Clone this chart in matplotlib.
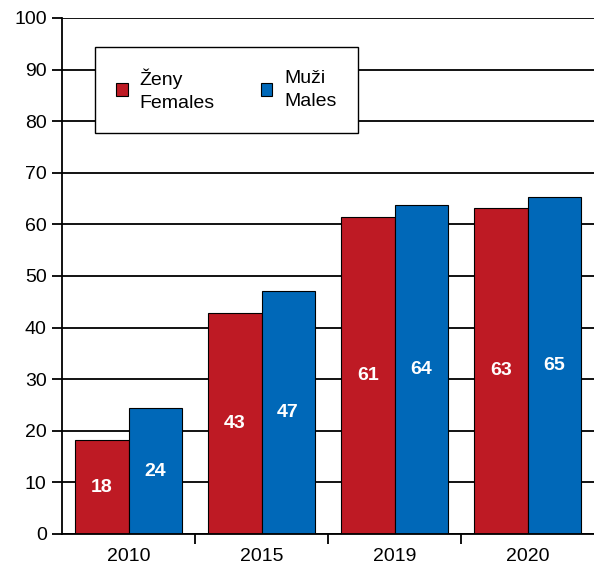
import matplotlib.pyplot as plt
import numpy as np
from matplotlib.patches import Patch

plt.rcParams['font.family'] = ['Liberation Sans', 'DejaVu Sans']

years = ['2010', '2015', '2019', '2020']
females = [18.2, 42.9, 61.4, 63.2]
males = [24.4, 47.1, 63.8, 65.3]

red = '#BE1A24'
blue = '#0068B8'

fig = plt.figure(figsize=(5.94, 5.68), dpi=100)
ax = fig.add_axes([62 / 594, 34 / 568, 532 / 594, 516 / 568])

x = np.arange(len(years))
w = 0.4
ax.set_axisbelow(True)
ax.yaxis.grid(True, color='black', linewidth=1.3)
b1 = ax.bar(x - w / 2, females, w, color=red, edgecolor='black', linewidth=0.8)
b2 = ax.bar(x + w / 2, males, w, color=blue, edgecolor='black', linewidth=0.8)

for bars, vals in ((b1, females), (b2, males)):
    for rect, v in zip(bars, vals):
        ax.text(rect.get_x() + rect.get_width() / 2, v / 2, f'{v:.0f}',
                ha='center', va='center', color='white', fontsize=14, fontweight='bold')

ax.set_xlim(-0.5, 3.5)
ax.set_ylim(0, 100)
ax.set_yticks(range(0, 101, 10))
ax.set_xticks(x)
ax.set_xticklabels(years)
ax.set_xticks([0.5, 1.5, 2.5], minor=True)
ax.tick_params(axis='x', which='major', length=0, labelsize=14, pad=10)
ax.tick_params(axis='x', which='minor', length=7, width=1.3, direction='out')
ax.tick_params(axis='y', length=7, width=1.3, labelsize=14, pad=4)
for s in ('top', 'right'):
    ax.spines[s].set_visible(False)
for s in ('left', 'bottom'):
    ax.spines[s].set_linewidth(1.3)

handles = [Patch(facecolor=red, edgecolor='black', linewidth=0.8),
           Patch(facecolor=blue, edgecolor='black', linewidth=0.8)]
leg = ax.legend(handles, ['Ženy\nFemales', 'Muži\nMales'], ncol=2,
                loc='upper left', bbox_to_anchor=(0.062, 0.771, 0.494, 0.173),
                mode='expand', fontsize=14, frameon=True, fancybox=False,
                handlelength=0.6, handleheight=0.6, handletextpad=0.6,
                borderpad=1.1, borderaxespad=0, columnspacing=0.4, framealpha=1)
for t in leg.get_texts():
    t.set_linespacing(1.45)
leg.get_frame().set_edgecolor('black')
leg.get_frame().set_linewidth(1.0)

fig.savefig('out.png', dpi=100)
